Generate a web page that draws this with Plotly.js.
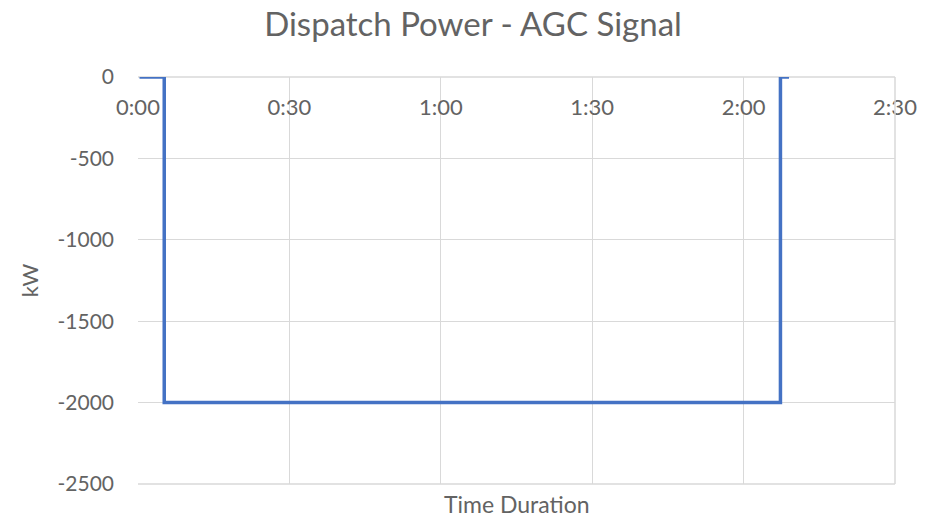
<!DOCTYPE html>
<html>
<head>
<meta charset="utf-8">
<script src="https://cdn.plot.ly/plotly-3.0.1.min.js"></script>
<style>html,body{margin:0;padding:0;background:#fff;}#chart{width:946px;height:518px;}</style>
</head>
<body>
<div id="chart"></div>
<script>
// Time in minutes since start, power in kW
const timeMinutes = [0.3, 5.2, 5.2, 127.3, 127.3, 129.0];
const powerKW = [0, 0, -2000, -2000, 0, 0];
const xTickVals = [0, 30, 60, 90, 120, 150];
const xTickText = ["0:00", "0:30", "1:00", "1:30", "2:00", "2:30"];
const yTickVals = [0, -500, -1000, -1500, -2000, -2500];
const yTickText = ["0", "-500", "-1000", "-1500", "-2000", "-2500"];

const fontFam = "Lato, 'Open Sans', sans-serif";
const grey = "#636363";

const trace = {
  x: timeMinutes,
  y: powerKW,
  type: "scatter",
  mode: "lines",
  line: {color: "#4472C4", width: 3.5},
  hoverinfo: "skip"
};

const layout = {
  width: 946,
  height: 518,
  margin: {l: 138, r: 51, t: 77, b: 34},
  paper_bgcolor: "#ffffff",
  plot_bgcolor: "#ffffff",
  showlegend: false,
  title: {
    text: "Dispatch Power - AGC Signal",
    font: {family: fontFam, size: 33, color: grey},
    x: 0.5, xref: "container", xanchor: "center",
    y: 0.952, yref: "container", yanchor: "middle"
  },
  xaxis: {
    range: [0, 150],
    side: "top",
    tickvals: xTickVals,
    ticktext: xTickText,
    ticklabelposition: "inside",
    ticklabeloverflow: "allow",
    ticklabelstandoff: 20,
    ticks: "",
    showgrid: true,
    gridcolor: "#d9d9d9",
    gridwidth: 1.3,
    zeroline: false,
    showline: false,
    tickfont: {family: fontFam, size: 22, color: grey},
    fixedrange: true
  },
  yaxis: {
    range: [-2500, 0],
    tickvals: yTickVals,
    ticktext: yTickText,
    ticks: "",
    ticklabeloverflow: "allow",
    ticklabelstandoff: 23,
    showgrid: true,
    gridcolor: "#d9d9d9",
    gridwidth: 1.3,
    zeroline: false,
    showline: false,
    tickfont: {family: fontFam, size: 21, color: grey},
    title: {text: "kW", font: {family: fontFam, size: 22, color: grey}, standoff: 12},
    fixedrange: true
  },
  shapes: [
    {type: "line", xref: "paper", yref: "paper", x0: 0, x1: 1, y0: 0, y1: 0, line: {color: "#d9d9d9", width: 1.5}},
    {type: "line", xref: "paper", yref: "paper", x0: 0, x1: 1, y0: 1, y1: 1, line: {color: "#d9d9d9", width: 1.5}, layer: "below"},
    {type: "line", xref: "paper", yref: "paper", x0: 1, x1: 1, y0: 0, y1: 1, line: {color: "#d9d9d9", width: 1.5}}
  ],
  annotations: [
    {
      text: "Time Duration",
      xref: "paper", yref: "paper",
      x: 0.5, y: 0, yshift: -4,
      xanchor: "center", yanchor: "top",
      showarrow: false,
      font: {family: fontFam, size: 23, color: grey}
    }
  ]
};

Plotly.newPlot("chart", [trace], layout, {displayModeBar: false, staticPlot: true});
</script>
</body>
</html>
